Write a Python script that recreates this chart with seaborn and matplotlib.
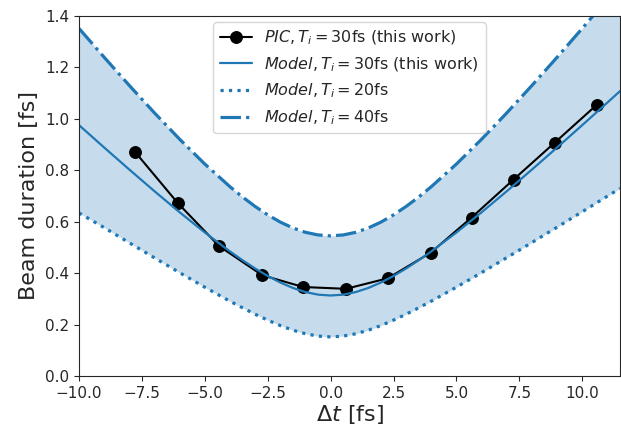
import matplotlib
matplotlib.use("Agg")
import matplotlib.pyplot as plt
import seaborn as sns
import pandas as pd

# PIC simulation: beam duration versus delay
pic_dt = [-7.77, -6.06, -4.43, -2.72, -1.09, 0.61, 2.27, 3.97, 5.60, 7.27, 8.90, 10.57]
pic_dur = [0.871, 0.671, 0.505, 0.392, 0.346, 0.339, 0.380, 0.479, 0.616, 0.764, 0.907, 1.054]

# Model curves sampled on a common delay grid (denser around the minimum)
model_dt = [-10, -9, -8, -7, -6, -5, -4, -3.5, -3, -2.5, -2, -1.5, -1, -0.5, 0,
            0.5, 1, 1.5, 2, 2.5, 3, 3.5, 4, 5, 6, 7, 8, 9, 10, 11, 11.5]
model_30 = [0.9756, 0.8886, 0.8028, 0.7186, 0.6367, 0.5581, 0.4844, 0.4501, 0.4181, 0.3891,
            0.3635, 0.3424, 0.3264, 0.3164, 0.313,
            0.3164, 0.3264, 0.3424, 0.3635, 0.3891, 0.4181, 0.4501, 0.4844, 0.5581, 0.6367,
            0.7186, 0.8028, 0.8886, 0.9756, 1.0635, 1.1078]
model_20 = [0.6340, 0.5770, 0.5180, 0.4595, 0.4018, 0.3452, 0.2907, 0.2651, 0.2402, 0.2172,
            0.1961, 0.1782, 0.1642, 0.1551, 0.152,
            0.1551, 0.1642, 0.1782, 0.1962, 0.2172, 0.2403, 0.2651, 0.2910, 0.3455, 0.4021,
            0.4602, 0.5191, 0.5788, 0.6388, 0.6993, 0.7295]
model_40 = [1.3517, 1.2395, 1.1298, 1.0231, 0.9208, 0.8243, 0.7361, 0.6960, 0.6593, 0.6266,
            0.5985, 0.5757, 0.5588, 0.5485, 0.545,
            0.5485, 0.5588, 0.5757, 0.5985, 0.6266, 0.6593, 0.6960, 0.7361, 0.8243, 0.9208,
            1.0231, 1.1298, 1.2395, 1.3517, 1.4658, 1.5234]

x_ticks = [-10.0, -7.5, -5.0, -2.5, 0.0, 2.5, 5.0, 7.5, 10.0]
y_ticks = [0.0, 0.2, 0.4, 0.6, 0.8, 1.0, 1.2, 1.4]

sns.set_style("ticks")
plt.rcParams.update({
    "font.family": ["DejaVu Sans"],
    "font.size": 11,
    "mathtext.fontset": "dejavusans",
})

pic = pd.DataFrame({"dt": pic_dt, "dur": pic_dur})
model = pd.DataFrame({"dt": model_dt, "m30": model_30, "m20": model_20, "m40": model_40})

fig = plt.figure(figsize=(6.21, 4.30), dpi=100)
ax = fig.add_axes([0.1272, 0.1256, 0.8712, 0.8372])

blue = "#1f77b4"
ax.fill_between(model["dt"], model["m20"], model["m40"], color=blue, alpha=0.25, lw=0)

sns.lineplot(data=pic, x="dt", y="dur", ax=ax, color="black", marker="o",
             markersize=8.5, markeredgecolor="black", lw=1.5,
             label=r"$PIC, T_i = 30$fs (this work)")
sns.lineplot(data=model, x="dt", y="m30", ax=ax, color=blue, lw=1.6,
             label=r"$Model, T_i = 30$fs (this work)")
sns.lineplot(data=model, x="dt", y="m20", ax=ax, color=blue, lw=2.3, linestyle=":",
             label=r"$Model, T_i = 20$fs")
sns.lineplot(data=model, x="dt", y="m40", ax=ax, color=blue, lw=2.3, linestyle="-.",
             label=r"$Model, T_i = 40$fs")

ax.set_xlim(-10, 11.5)
ax.set_ylim(0, 1.4)
ax.set_xticks(x_ticks)
ax.set_yticks(y_ticks)
ax.set_xlabel(r"$\Delta t$ [fs]", fontsize=16, labelpad=2)
ax.set_ylabel("Beam duration [fs]", fontsize=16)
ax.tick_params(labelsize=11)
for s in ax.spines.values():
    s.set_visible(True)

ax.legend(loc="upper center", fontsize=11.5, frameon=True, borderaxespad=0.4)

fig.savefig("out.png", dpi=100)
